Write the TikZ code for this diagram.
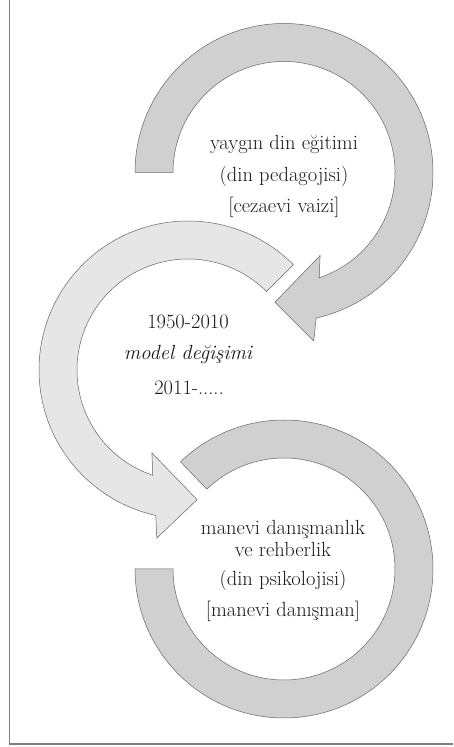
\documentclass[tikz,border=0pt]{standalone}
\usepackage{fontspec}
\definecolor{ringdark}{RGB}{208,208,208}
\definecolor{ringlight}{RGB}{230,230,230}
\newcommand{\openyears}{2011-.....}
\begin{document}
\begin{tikzpicture}[x=1pt, y=1pt,
    ring/.style={draw=black!60, line width=0.5pt, line join=miter},
    txt/.style={font=\fontsize{20.5}{24}\selectfont, text=black!90, anchor=base, inner sep=0pt}]
  \useasboundingbox (0,0) rectangle (453,747);
  \draw[black!50, line width=1.2pt] (9.3,747) -- (9.3,3) -- (453,3);

  \coordinate (upper) at (284,574.5);
  \coordinate (middle) at (188,377);
  \coordinate (lower) at (284,178);

  % upper arrow, clockwise
  \draw[ring, fill=ringdark] ([shift={(180:149)}]upper)
    arc[start angle=180, end angle=-77.5, radius=149]
    -- ([shift={(-80:171)}]upper) -- ([shift={(-94:130)}]upper)
    -- ([shift={(-66.5:90.5)}]upper) -- ([shift={(-71.5:111)}]upper)
    arc[start angle=-71.5, end angle=180, radius=111] -- cycle;

  % middle arrow, counterclockwise
  \draw[ring, fill=ringlight] ([shift={(45:149)}]middle)
    arc[start angle=45, end angle=257.5, radius=149]
    -- ([shift={(259.5:171)}]middle) -- ([shift={(274:130)}]middle)
    -- ([shift={(246.5:90.5)}]middle) -- ([shift={(251.5:111)}]middle)
    arc[start angle=251.5, end angle=45, radius=111] -- cycle;

  % lower ring
  \draw[ring, fill=ringdark] ([shift={(180:149)}]lower)
    arc[start angle=180, end angle=494, radius=149]
    -- ([shift={(494:111)}]lower)
    arc[start angle=494, end angle=180, radius=111] -- cycle;

  \def \Lines {
    up1/284/597/yaygın din eğitimi,
    up2/284/565/(din pedagojisi),
    up3/284/534/[cezaevi vaizi],
    mid1/188/418.7/1950-2010,
    mid2/188/387/{\itshape model değişimi},
    mid3/189/352/\openyears,
    low1/283/212/manevi danışmanlık,
    low2/283/190.3/ve rehberlik,
    low3/283/161.5/(din psikolojisi),
    low4/283/130.3/[manevi danışman]}

  \foreach \id / \x / \y / \txt in \Lines {
    \node[txt] (\id) at (\x, \y) {\txt};
  }
\end{tikzpicture}
\end{document}
